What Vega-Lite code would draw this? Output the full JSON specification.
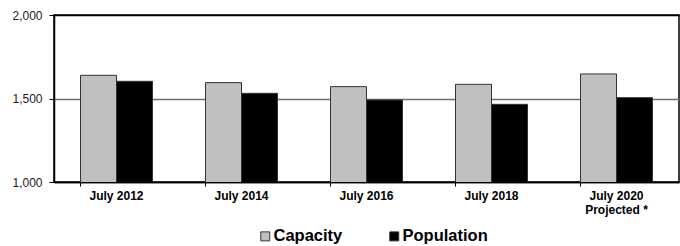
{
  "$schema": "https://vega.github.io/schema/vega-lite/v6.json",
  "autosize": {"type": "none"},
  "width": 625,
  "height": 167,
  "padding": {"left": 54, "top": 15, "right": 1, "bottom": 64},
  "background": "white",
  "config": {
    "font": "Liberation Sans",
    "view": {"stroke": "black", "strokeWidth": 1.5}
  },
  "data": {
    "values": [
      {"period": "July 2012", "series": "Capacity", "value": 1639},
      {"period": "July 2012", "series": "Population", "value": 1603},
      {"period": "July 2014", "series": "Capacity", "value": 1595},
      {"period": "July 2014", "series": "Population", "value": 1531},
      {"period": "July 2016", "series": "Capacity", "value": 1571},
      {"period": "July 2016", "series": "Population", "value": 1491},
      {"period": "July 2018", "series": "Capacity", "value": 1585},
      {"period": "July 2018", "series": "Population", "value": 1465},
      {"period": "July 2020", "series": "Capacity", "value": 1647},
      {"period": "July 2020", "series": "Population", "value": 1505}
    ]
  },
  "mark": {"type": "bar", "stroke": "#333333", "strokeWidth": 1, "clip": true},
  "encoding": {
    "x": {
      "field": "period",
      "type": "nominal",
      "sort": null,
      "title": null,
      "scale": {"paddingInner": 0.424, "paddingOuter": 0.212},
      "axis": {
        "labelAngle": 0,
        "labelFontWeight": "bold",
        "labelFontSize": 12,
        "labelColor": "black",
        "labelPadding": 4,
        "labelLineHeight": 14,
        "labelExpr": "datum.value == 'July 2020' ? ['July 2020', 'Projected *'] : datum.value",
        "bandPosition": 0,
        "tickColor": "black",
        "tickSize": 4,
        "domainColor": "black",
        "domainWidth": 1.5
      }
    },
    "xOffset": {"field": "series", "type": "nominal", "scale": {"paddingInner": 0, "paddingOuter": 0}},
    "y": {
      "field": "value",
      "type": "quantitative",
      "title": null,
      "scale": {"domain": [1000, 2000], "zero": false, "nice": false},
      "axis": {
        "values": [1000, 1500, 2000],
        "format": ",.0f",
        "labelFontSize": 12,
        "labelColor": "#222222",
        "labelPadding": 7,
        "tickColor": "black",
        "tickSize": 5,
        "domainColor": "black",
        "domainWidth": 1.5,
        "grid": true,
        "gridColor": {"condition": {"test": "datum.value == 1500", "value": "#707070"}, "value": "black"},
        "gridWidth": 1.5
      }
    },
    "color": {
      "field": "series",
      "type": "nominal",
      "scale": {"domain": ["Capacity", "Population"], "range": ["#C0C0C0", "#000000"]},
      "legend": {
        "title": null,
        "orient": "none",
        "direction": "horizontal",
        "legendX": 203,
        "legendY": 213,
        "symbolType": "square",
        "symbolSize": 81,
        "symbolStrokeColor": "#333333",
        "symbolStrokeWidth": 1,
        "labelFontSize": 16.5,
        "labelFontWeight": "bold",
        "labelColor": "black",
        "labelOffset": 0,
        "columnPadding": 43
      }
    }
  }
}
